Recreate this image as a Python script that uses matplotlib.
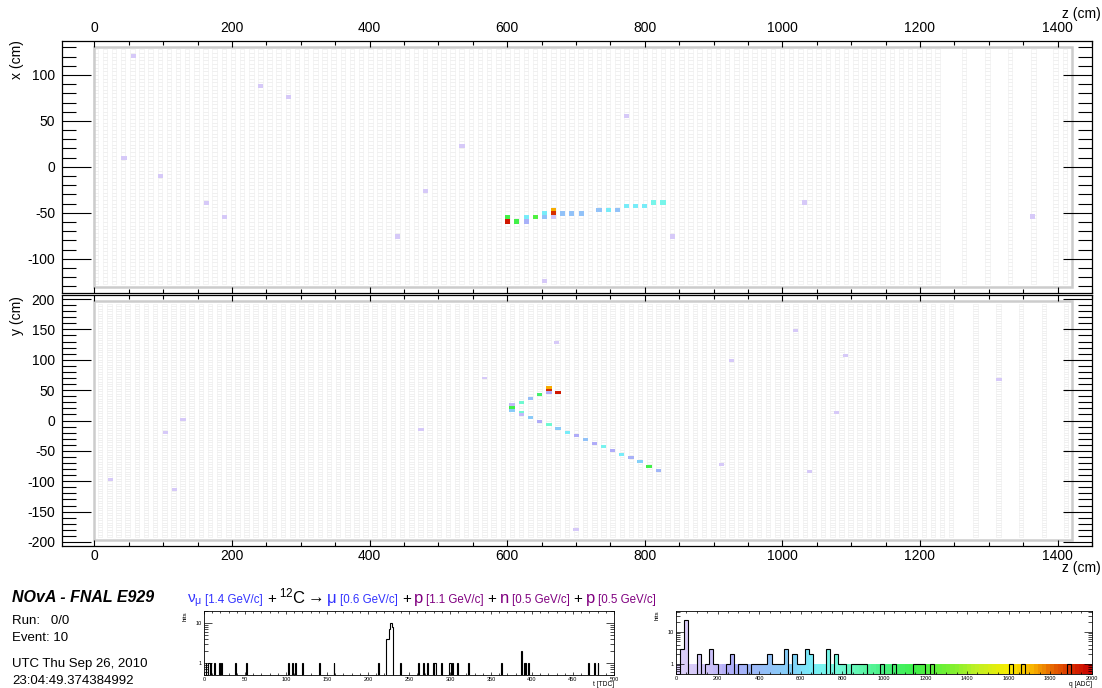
import matplotlib
matplotlib.use('Agg')
import matplotlib.pyplot as plt
import numpy as np
from matplotlib.collections import PolyCollection
from matplotlib.colors import LinearSegmentedColormap
from matplotlib.ticker import MultipleLocator, FixedLocator, NullFormatter

plt.rcParams['font.family'] = ['Liberation Sans', 'DejaVu Sans']
plt.rcParams['mathtext.fontset'] = 'custom'
plt.rcParams['mathtext.rm'] = 'Liberation Sans'
plt.rcParams['mathtext.it'] = 'Liberation Sans:italic'
plt.rcParams['axes.unicode_minus'] = False

# ---- hits in the x view (z cm, x cm, charge ADC)
xv_z = [57, 43, 96, 163, 189.5, 242, 282, 441, 481.6, 534.4, 654, 773, 840, 1032, 1364,
        600.5, 600.5, 614, 628, 628, 641, 654, 654, 667.6, 667.6, 667.6,
        680.7, 694, 707.6, 733.5, 747, 760.5, 773, 786.6, 800, 813, 826.6]
xv_x = [120.6, 10, -10, -39, -54.7, 88.4, 75.7, -75.7, -26.4, 22.5, -124, 55.4, -75.7, -38.8, -54,
        -54.3, -59.5, -59.5, -54.3, -59.5, -54.3, -50.7, -54.7, -47, -50.7, -54.7,
        -50.7, -50.7, -50.7, -46.7, -46.7, -46.7, -42.8, -42.8, -42.8, -38.8, -38.8]
xv_q = [90, 90, 90, 90, 90, 90, 90, 90, 90, 90, 90, 90, 90, 90, 90,
        1150, 1950, 1150, 650, 300, 1200, 650, 450, 1720, 1900, 150,
        450, 450, 450, 450, 650, 450, 650, 650, 650, 720, 720]

# ---- hits in the y view (z cm, y cm, charge ADC)
yv_z = [23, 103.6, 116, 129, 474.8, 567, 672, 700, 912, 926, 1019, 1039, 1079, 1092, 1315,
        607, 607, 607, 620.6, 620.6, 620.6, 634, 634, 647, 647, 660.9, 660.9, 660.9, 660.9,
        674, 674, 687.5, 700.6, 713.7, 726.7, 740, 753.4, 766.6, 780, 793, 806, 820]
yv_y = [-97, -19.2, -113, 1.1, -14.8, 70, 128, -179, -71.8, 99, 148, -84, 13.7, 107, 67,
        25.8, 21.4, 17, 29.6, 13.5, 10, 36.7, 5.4, 42.2, -1, 53.8, 49.9, 46, -7,
        46, -13.7, -19.7, -25.2, -31.3, -37.3, -43.3, -49.9, -56, -61.4, -68, -76, -82]
yv_q = [90, 90, 90, 90, 90, 90, 90, 90, 90, 90, 90, 90, 90, 90, 90,
        200, 1150, 500, 800, 800, 200, 420, 500, 1050, 250, 1720, 1900, 250, 800,
        1950, 500, 650, 250, 450, 250, 700, 250, 650, 300, 550, 1150, 350]

# ---- timing histogram (TDC, hits)
tdc_time = [2, 5, 6, 8, 12, 18, 21, 38, 51, 103, 107, 111, 120, 140, 158, 212,
            222, 223, 224, 225, 226, 227, 228, 229, 230,
            239, 261, 267, 272, 279, 281, 282, 289, 299, 300, 303, 309, 322, 362,
            387, 390, 392, 395, 468, 476, 480]
tdc_count = [1, 1, 1, 1, 1, 1, 1, 1, 1, 1, 1, 1, 1, 1, 1, 1,
             4, 4, 4, 7, 7, 10, 10, 8, 8,
             1, 1, 1, 1, 1, 1, 1, 1, 1, 1, 1, 1, 1, 1,
             2, 1, 1, 1, 1, 1, 1]

# ---- charge histogram (lower bin edge ADC, hits), 20 ADC bins
adc_bin = [20, 40, 100, 140, 160, 180, 240, 260, 300, 320, 360, 380, 400, 420, 440,
           460, 480, 500, 520, 560, 580, 600, 620, 640, 720, 760, 780, 800,
           840, 860, 880, 900, 980, 1040, 1140, 1160, 1180, 1220, 1600, 1660, 1880]
adc_count = [3, 24, 2, 1, 3, 1, 1, 2, 1, 1, 1, 1, 1, 1, 2,
             1, 1, 1, 3, 2, 1, 1, 3, 2, 3, 2, 1, 1,
             1, 1, 1, 1, 1, 1, 1, 1, 1, 1, 1, 1, 1]

# ---- charge palette
pal_q = [0, 150, 250, 400, 550, 650, 750, 850, 1000, 1150, 1300, 1450, 1600, 1720, 1800, 1900, 2000]
pal_col = ['#ddd0f8', '#d0c4f8', '#b0acf8', '#98bcf8', '#84d0f8', '#78ecf8', '#78f8e4', '#68f8bc',
           '#48f080', '#40f048', '#70f034', '#c0f024', '#f8ec00', '#f8b000', '#e87000', '#d83000', '#c80000']
cmap = LinearSegmentedColormap.from_list('q', [(q / 2000, c) for q, c in zip(pal_q, pal_col)])

# detector geometry
x_planes = list(np.arange(2, 1230, 13.3)) + [1264, 1298, 1331, 1365, 1397, 1411]
y_planes = list(np.arange(8.5, 1250, 13.3)) + [1281, 1314, 1347, 1380, 1412]

W, H = 1102, 688
fig = plt.figure(figsize=(W / 100, H / 100), dpi=100)


def draw_view(ax, planes, ncell, half, border, hz, hv, hq):
    cw = 2 * half / ncell
    verts = []
    for z in planes:
        for i in range(ncell):
            y0 = -half + i * cw
            verts.append([(z - 3.3, y0), (z + 3.3, y0), (z + 3.3, y0 + cw), (z - 3.3, y0 + cw)])
    ax.add_collection(PolyCollection(verts, facecolors='none', edgecolors='#eeeeee', linewidths=0.45))
    ax.add_patch(plt.Rectangle((0, -border), 1421, 2 * border, fill=False, ec='#cccccc', lw=1.8))
    hits = [[(z - 3.8, v - 2.3), (z + 3.8, v - 2.3), (z + 3.8, v + 2.3), (z - 3.8, v + 2.3)]
            for z, v in zip(hz, hv)]
    ax.add_collection(PolyCollection(hits, facecolors=cmap(np.array(hq) / 2000), edgecolors='none'))


def style_main(ax, ylim):
    ax.set_xlim(-47, 1450)
    ax.set_ylim(-ylim, ylim)
    ax.xaxis.set_major_locator(MultipleLocator(200))
    ax.xaxis.set_minor_locator(MultipleLocator(50))
    ax.yaxis.set_major_locator(MultipleLocator(50))
    ax.yaxis.set_minor_locator(MultipleLocator(10))
    ax.tick_params(which='both', direction='in', top=True, right=True, labelsize=10, width=0.8)
    ax.tick_params(axis='y', which='major', length=21, pad=5)
    ax.tick_params(axis='y', which='minor', length=10)
    ax.tick_params(axis='x', which='major', length=4.5, pad=4)
    ax.tick_params(axis='x', which='minor', length=3)
    for s in ax.spines.values():
        s.set_linewidth(0.9)


ax1 = fig.add_axes([62 / W, 1 - 292.7 / H, 1030 / W, 251.7 / H])
draw_view(ax1, x_planes, 64, 128, 131, xv_z, xv_x, xv_q)
style_main(ax1, 137)
ax1.tick_params(labelbottom=False, labeltop=True)

ax2 = fig.add_axes([62 / W, 1 - 546 / H, 1030 / W, 251 / H])
draw_view(ax2, y_planes, 96, 192, 196, yv_z, yv_y, yv_q)
style_main(ax2, 206.6)
ax2.tick_params(axis='x', which='major', pad=2.5)

fig.text(17 / W, 1 - 40 / H, 'x (cm)', rotation=90, ha='center', va='top', fontsize=10)
fig.text(17 / W, 1 - 296 / H, 'y (cm)', rotation=90, ha='center', va='top', fontsize=10)
fig.text(1101 / W, 1 - 14 / H, 'z (cm)', ha='right', va='center', fontsize=10)
fig.text(1101 / W, 1 - 568 / H, 'z (cm)', ha='right', va='center', fontsize=10)

# ---- event info
fig.text(12 / W, 1 - 598 / H, 'NOvA - FNAL E929', fontsize=11.5, fontweight='bold', fontstyle='italic', va='center')
fig.text(12 / W, 1 - 621 / H, 'Run:   0/0', fontsize=9.5, va='center')
fig.text(12 / W, 1 - 638 / H, 'Event: 10', fontsize=9.5, va='center')
fig.text(12 / W, 1 - 664 / H, 'UTC Thu Sep 26, 2010', fontsize=9.5, va='center')
fig.text(12 / W, 1 - 681 / H, '23:04:49.374384992', fontsize=9.5, va='center')

blue, purple = '#3232ff', '#800080'
pieces = [(r'$\mathregular{\nu_{\mu}}$', blue, 11, 3), ('[1.4 GeV/c]', blue, 8.3, 4),
          ('+', 'black', 11, 3), (r'$\mathregular{^{12}C}$', 'black', 12, 2), ('\u2192', 'black', 12, 3),
          ('\u03bc', blue, 12, 3), ('[0.6 GeV/c]', blue, 8.3, 4), ('+', 'black', 11, 3),
          ('p', purple, 12, 3), ('[1.1 GeV/c]', purple, 8.3, 4), ('+', 'black', 11, 3),
          ('n', purple, 12, 3), ('[0.5 GeV/c]', purple, 8.3, 4), ('+', 'black', 11, 3),
          ('p', purple, 12, 3), ('[0.5 GeV/c]', purple, 8.3, 4)]
rend = fig.canvas.get_renderer()
xp = 187
for s, c, fs, gap in pieces:
    t = fig.text(xp / W, 1 - 603 / H, s, color=c, fontsize=fs, va='baseline', ha='left')
    xp += t.get_window_extent(renderer=rend).width + gap


def style_small(ax, xmax, xmaj, xmin, ylim, xlab):
    ax.set_yscale('log')
    ax.set_xlim(0, xmax)
    ax.set_ylim(*ylim)
    ax.xaxis.set_major_locator(MultipleLocator(xmaj))
    ax.xaxis.set_minor_locator(MultipleLocator(xmin))
    ax.yaxis.set_major_locator(FixedLocator([1, 10]))
    ax.yaxis.set_major_formatter(plt.FuncFormatter(lambda v, p: '%d' % v))
    ax.yaxis.set_minor_locator(FixedLocator([v * d for d in (0.1, 1, 10) for v in range(2, 10)]))
    ax.yaxis.set_minor_formatter(NullFormatter())
    ax.tick_params(which='both', direction='in', top=True, right=True, labelsize=4, width=0.5, pad=1.5)
    ax.tick_params(axis='y', which='major', length=6)
    ax.tick_params(axis='y', which='minor', length=3)
    ax.tick_params(axis='x', which='major', length=2.5)
    ax.tick_params(axis='x', which='minor', length=1.5)
    for s in ax.spines.values():
        s.set_linewidth(0.6)
    ax.text(1.0, -0.1, xlab, transform=ax.transAxes, ha='right', va='top', fontsize=4.8)
    ax.text(-0.045, 1.0, 'hits', transform=ax.transAxes, rotation=90, ha='center', va='top', fontsize=4.5)


# ---- time histogram
ax3 = fig.add_axes([204 / W, 1 - 675 / H, 410 / W, 64 / H])
t_edges = np.arange(0, 501)
t_hist = np.zeros(500)
for tt, cc in zip(tdc_time, tdc_count):
    t_hist[tt] += cc
ax3.stairs(np.where(t_hist > 0, t_hist, 1e-3), t_edges, color='black', lw=0.8)
style_small(ax3, 500, 50, 10, (0.5, 20), 't [TDC]')

# ---- charge histogram
ax4 = fig.add_axes([676 / W, 1 - 674.3 / H, 415.7 / W, 63.6 / H])
q_edges = np.arange(0, 2001, 20)
q_hist = np.zeros(100)
for b, cc in zip(adc_bin, adc_count):
    q_hist[b // 20] += cc
centers = q_edges[:-1] + 10
ax4.bar(centers, np.maximum(q_hist, 1) - 1e-3, bottom=1e-3, width=20,
        color=cmap(centers / 2000), edgecolor='none')
ax4.stairs(np.where(q_hist > 0, q_hist, 1e-3), q_edges, color='black', lw=0.8)
style_small(ax4, 2000, 200, 50, (0.48, 45), 'q [ADC]')

fig.savefig('out.png', dpi=100)
